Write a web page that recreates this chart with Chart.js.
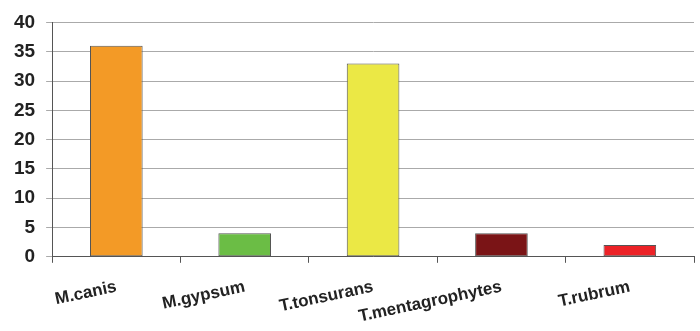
<!DOCTYPE html>
<html>
<head>
<meta charset="utf-8">
<script src="https://cdn.jsdelivr.net/npm/chart.js@4"></script>
<style>
  html, body { margin: 0; padding: 0; background: #fff; }
  #wrap { width: 700px; height: 331px; }
</style>
</head>
<body>
<div id="wrap"><canvas id="c" width="700" height="331"></canvas></div>
<script>
// Isolated dermatophyte species and case counts
const species = ['M.canis', 'M.gypsum', 'T.tonsurans', 'T.mentagrophytes', 'T.rubrum'];
const counts = [36, 4, 33, 4, 2];
const barColors = ['#F39A26', '#6BBD45', '#EBE845', '#7A1416', '#EC2227'];
const yTicks = [0, 5, 10, 15, 20, 25, 30, 35, 40];

new Chart(document.getElementById('c'), {
  type: 'bar',
  data: {
    labels: species,
    datasets: [{
      data: counts,
      backgroundColor: barColors,
      borderColor: '#555',
      borderWidth: 1,
      borderSkipped: false,
      barPercentage: 0.41,
      categoryPercentage: 1
    }]
  },
  options: {
    responsive: false,
    animation: false,
    layout: { padding: { left: 3, right: 6, top: 9, bottom: -10 } },
    plugins: { legend: { display: false }, tooltip: { enabled: false } },
    scales: {
      x: {
        grid: { offset: true, drawOnChartArea: false, drawTicks: true, tickLength: 6, color: '#555' },
        border: { color: '#555', width: 1 },
        ticks: {
          minRotation: 12, maxRotation: 12,
          padding: 14,
          color: '#222',
          font: { family: 'Liberation Sans', size: 17, weight: 'bold' }
        }
      },
      y: {
        min: 0, max: 40,
        afterBuildTicks: axis => { axis.ticks = yTicks.map(v => ({ value: v })); },
        grid: { color: '#aaa', tickLength: 6 },
        border: { color: '#555', width: 1 },
        ticks: {
          padding: 11,
          color: '#222',
          font: { family: 'Liberation Sans', size: 19, weight: 'bold' }
        }
      }
    }
  }
});
</script>
</body>
</html>
